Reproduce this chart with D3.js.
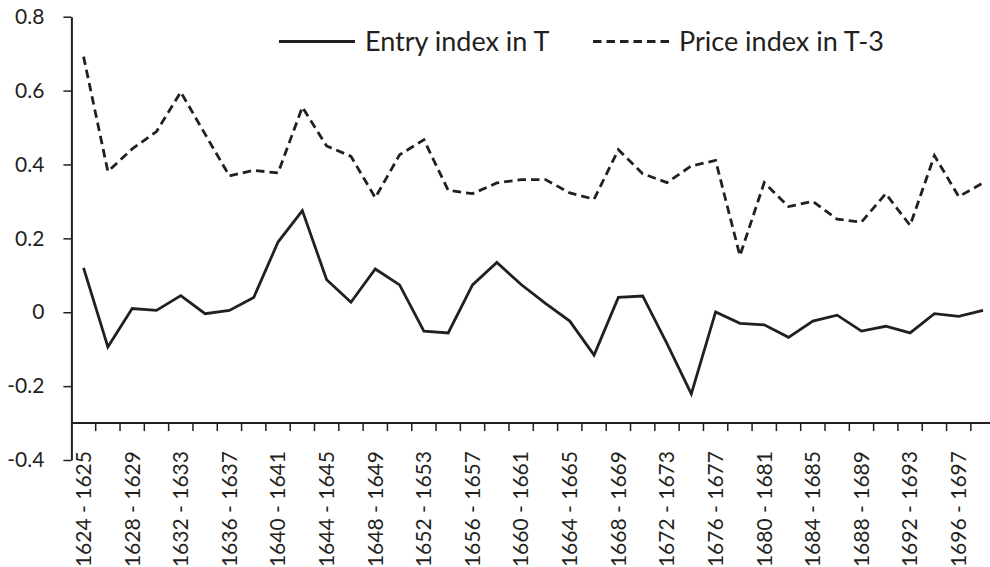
<!DOCTYPE html>
<html>
<head>
<meta charset="utf-8">
<script src="https://cdn.jsdelivr.net/npm/d3@7"></script>
<style>
  html, body { margin: 0; padding: 0; background: #fff; }
  svg { display: block; }
  text { font-family: Lato, "Open Sans", sans-serif; fill: #231f20; }
</style>
</head>
<body>
<svg id="chart" width="990" height="567"></svg>
<script>
// ---- data ----
const startYears = d3.range(1624, 1700, 2);
const categories = startYears.map(y => `${y} - ${y + 1}`);
const entryIndex = [0.12, -0.094, 0.01, 0.005, 0.045, -0.004, 0.005, 0.04, 0.19, 0.275,
  0.088, 0.027, 0.117, 0.074, -0.051, -0.056, 0.074, 0.135, 0.075, 0.024,
  -0.024, -0.116, 0.04, 0.044, -0.085, -0.221, 0.001, -0.03, -0.034, -0.068,
  -0.024, -0.008, -0.051, -0.038, -0.056, -0.004, -0.011, 0.005];
const priceIndex = [0.692, 0.381, 0.442, 0.489, 0.596, 0.482, 0.369, 0.384, 0.377, 0.555,
  0.45, 0.422, 0.31, 0.426, 0.467, 0.33, 0.321, 0.35, 0.359, 0.359,
  0.323, 0.306, 0.44, 0.375, 0.351, 0.396, 0.411, 0.153, 0.351, 0.286,
  0.3, 0.252, 0.244, 0.321, 0.235, 0.424, 0.313, 0.35];
const yTicks = [-0.4, -0.2, 0, 0.2, 0.4, 0.6, 0.8];
const seriesNames = ["Entry index in T", "Price index in T-3"];
const xAxisCross = -0.3;

// ---- layout ----
const svg = d3.select("#chart");
const left = 71.4, catW = 24.31;
const x = d3.scaleBand().domain(categories).range([left, left + categories.length * catW]).padding(0);
const y = d3.scaleLinear().domain([-0.4, 0.8]).range([460, 16.7]);
const ink = "#231f20";

// y axis
const yAxis = d3.axisLeft(y).tickValues(yTicks).tickSize(8).tickSizeOuter(0)
  .tickFormat(v => v === 0 ? "0" : v.toFixed(1));
const gy = svg.append("g").attr("transform", `translate(${left},0)`).call(yAxis);
gy.select(".domain").attr("stroke", ink).attr("stroke-width", 2);
gy.selectAll(".tick line").attr("stroke", ink).attr("stroke-width", 1.5);
gy.selectAll(".tick text").attr("x", -27).attr("font-size", 21).attr("fill", ink)
  .style("font-family", "Lato, 'Open Sans', sans-serif");

// x axis at -0.3
const y0 = y(xAxisCross);
svg.append("line").attr("x1", left).attr("x2", 995).attr("y1", y0).attr("y2", y0)
  .attr("stroke", ink).attr("stroke-width", 2);
svg.append("g").selectAll("line").data(categories).join("line")
  .attr("x1", d => x(d) + x.bandwidth()).attr("x2", d => x(d) + x.bandwidth())
  .attr("y1", y0).attr("y2", y0 + 8).attr("stroke", ink).attr("stroke-width", 1.5);
svg.append("g").selectAll("text").data(categories.filter((d, i) => i % 2 === 0)).join("text")
  .attr("transform", d => `translate(${x(d) + x.bandwidth() / 2},${y0 + 28}) rotate(-90)`)
  .attr("text-anchor", "end").attr("dy", "0.35em").attr("font-size", 21)
  .text(d => d);

// lines
const line = d3.line().x((d, i) => x(categories[i]) + x.bandwidth() / 2).y(d => y(d));
svg.append("path").datum(priceIndex).attr("d", line).attr("fill", "none")
  .attr("stroke", ink).attr("stroke-width", 2.8).attr("stroke-dasharray", "8.5,5");
svg.append("path").datum(entryIndex).attr("d", line).attr("fill", "none")
  .attr("stroke", ink).attr("stroke-width", 2.8).attr("stroke-linejoin", "miter");

// legend
const legend = [
  { name: seriesNames[0], x1: 279, x2: 355, tx: 365, dash: null },
  { name: seriesNames[1], x1: 593, x2: 670, tx: 679, dash: "8.5,5" }
];
const lg = svg.append("g");
legend.forEach(l => {
  lg.append("line").attr("x1", l.x1).attr("x2", l.x2).attr("y1", 41.5).attr("y2", 41.5)
    .attr("stroke", ink).attr("stroke-width", 2.8).attr("stroke-dasharray", l.dash);
  lg.append("text").attr("x", l.tx).attr("y", 50.5).attr("font-size", 27).text(l.name);
});
</script>
</body>
</html>
